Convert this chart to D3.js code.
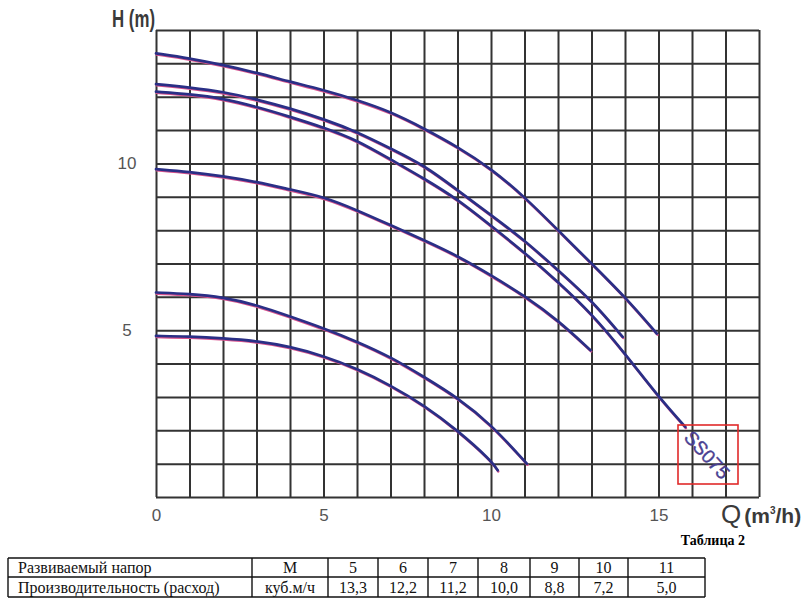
<!DOCTYPE html>
<html><head><meta charset="utf-8">
<script src="https://cdn.jsdelivr.net/npm/d3@7"></script>
<style>body{margin:0;background:#fff} svg{display:block}</style>
</head><body>
<svg id="chart" width="806" height="608"></svg>
<script>
// ---- data ----
const flowA = [0,1,2,3,4,5,6,7,8,9,10,10.2];
const headA = [4.83,4.81,4.76,4.68,4.51,4.23,3.85,3.35,2.75,2.0,1.1,0.8];
const flowB = [0,1,2,3,4,5,6,7,8,9,10,11.07];
const headB = [6.13,6.09,5.99,5.76,5.41,5.06,4.66,4.2,3.6,2.98,2.18,1.0];
const flowC = [0,1,2,3,4,5,6,7,8,9,10,11,12,12.97];
const headC = [9.83,9.75,9.62,9.45,9.22,9.0,8.6,8.15,7.7,7.23,6.65,6.03,5.3,4.4];
const flowD1 = [0,1,2,3,4,5,6,7,8,9,10,11,12,13,14,15,15.8];
const headD1 = [12.15,12.08,11.95,11.7,11.4,11.08,10.7,10.12,9.55,8.93,8.13,7.33,6.45,5.5,4.3,3.0,2.1];
const flowD2 = [0,1,2,3,4,5,6,7,8,9,10,11,12,13,13.93];
const headD2 = [12.38,12.28,12.15,11.92,11.65,11.33,10.95,10.45,9.95,9.2,8.45,7.7,6.8,5.9,4.8];
const flowE = [0,1,2,3,4,5,6,7,8,9,10,11,12,13,14,14.95];
const headE = [13.3,13.15,12.95,12.72,12.45,12.2,11.9,11.55,11.05,10.5,9.85,9.0,8.0,7.0,6.0,4.9];
const xTickLabels = [0,5,10,15];
const yTickLabels = [5,10];
const modelLabel = "SS075";
const tableRowTitles = ["Развиваемый напор","Производительность (расход)"];
const tableUnits = ["М","куб.м/ч"];
const tableHeads = ["5","6","7","8","9","10","11"];
const tableFlows = ["13,3","12,2","11,2","10,0","8,8","7,2","5,0"];
const tableCaption = "Таблица 2";

const series = [[flowA,headA],[flowB,headB],[flowC,headC],[flowD1,headD1],[flowD2,headD2],[flowE,headE]]
  .map(([q,h]) => q.map((v,i) => ({q:v, h:h[i]})));

// ---- layout ----
const svg = d3.select("#chart");
const x = d3.scaleLinear().domain([0,18]).range([156,759]);
const y = d3.scaleLinear().domain([0,14]).range([497,30]);
const gridColor = "#333";

// grid
const gx = svg.append("g").attr("transform",`translate(0,${y(0)})`)
  .call(d3.axisBottom(x).tickValues(d3.range(0,19)).tickSize(-(y(0)-y(14))).tickFormat(""));
gx.select(".domain").remove();
gx.selectAll("line").attr("stroke",gridColor).attr("stroke-width",2);
const gy = svg.append("g").attr("transform",`translate(${x(0)},0)`)
  .call(d3.axisLeft(y).tickValues(d3.range(0,15)).tickSize(-(x(18)-x(0))).tickFormat(""));
gy.select(".domain").remove();
gy.selectAll("line").attr("stroke",gridColor).attr("stroke-width",2);

// tick labels
const lx = svg.append("g").attr("transform",`translate(0,${y(0)})`)
  .call(d3.axisBottom(x).tickValues(xTickLabels).tickSize(0).tickPadding(12).tickFormat(d3.format("d")));
lx.select(".domain").remove();
lx.selectAll("text").attr("font-family","Liberation Sans, Arial, sans-serif").attr("font-size",17).attr("fill","#555");
const ly = svg.append("g").attr("transform",`translate(${x(0)},0)`)
  .call(d3.axisLeft(y).tickValues(yTickLabels).tickSize(0).tickPadding(29).tickFormat(d3.format("d")));
ly.select(".domain").remove();
ly.selectAll("text").attr("text-anchor","middle").attr("font-family","Liberation Sans, Arial, sans-serif").attr("font-size",17).attr("fill","#555");

// curves
const line = d3.line().x(d=>x(d.q)).y(d=>y(d.h)).curve(d3.curveBasis);
svg.append("g").attr("transform","translate(0.6,1.2)").selectAll("path").data(series).join("path")
  .attr("d",line).attr("fill","none").attr("stroke","#d9548e").attr("stroke-width",2.4).attr("stroke-linecap","round");
svg.append("g").selectAll("path").data(series).join("path")
  .attr("d",line).attr("fill","none").attr("stroke","#2a2f86").attr("stroke-width",2.7).attr("stroke-linecap","round");

// axis titles
svg.append("text").attr("x",112).attr("y",27).attr("font-family","Liberation Sans Narrow, Arial Narrow, sans-serif")
  .attr("font-size",23).attr("font-weight","bold").attr("fill","#3a3a3a").attr("textLength",43).attr("lengthAdjust","spacingAndGlyphs").text("H (m)");
const qt = svg.append("text").attr("x",721).attr("y",523).attr("fill","#3a3a3a").attr("font-family","Liberation Sans, Arial, sans-serif");
qt.append("tspan").attr("font-size",26).text("Q");
qt.append("tspan").attr("font-size",21).attr("font-family","Liberation Sans Narrow, sans-serif").attr("font-weight","bold").attr("dx",3).text("(m");
qt.append("tspan").attr("font-size",10).attr("dy",-9).attr("font-weight","bold").text("3");
qt.append("tspan").attr("font-size",21).attr("font-family","Liberation Sans Narrow, sans-serif").attr("font-weight","bold").attr("dy",9).text("/h)");

// model box + label
svg.append("rect").attr("x",678).attr("y",425).attr("width",60).attr("height",59)
  .attr("fill","none").attr("stroke","#e02a2a").attr("stroke-width",1.6);
svg.append("text").attr("transform","translate(707,455) rotate(48)").attr("text-anchor","middle").attr("dominant-baseline","central")
  .attr("font-family","Liberation Sans, Arial, sans-serif").attr("font-size",19).attr("fill","#4a3f92")
  .attr("stroke","#4a3f92").attr("stroke-width",0.4).text(modelLabel);

// table
svg.append("text").attr("x",745).attr("y",545).attr("text-anchor","end").attr("font-family","Liberation Serif, Times New Roman, serif")
  .attr("font-size",14).attr("font-weight","bold").attr("fill","#000").text(tableCaption);
const colEdges = [8,252,328,378,428,478,530,579,628,705];
const rowEdges = [558,577,597];
const rows = [[tableRowTitles[0],tableUnits[0],...tableHeads],[tableRowTitles[1],tableUnits[1],...tableFlows]];
const tg = svg.append("g");
rows.forEach((r,ri)=>{
  r.forEach((t,ci)=>{
    const x0 = colEdges[ci], x1 = colEdges[ci+1];
    tg.append("text").attr("x", ci===0 ? x0+10 : (x0+x1)/2).attr("y", (rowEdges[ri]+rowEdges[ri+1])/2+5.5)
      .attr("text-anchor", ci===0 ? "start" : "middle")
      .attr("font-family","Liberation Serif, Times New Roman, serif").attr("font-size",16).attr("fill","#111").text(t);
  });
});
tg.selectAll("line.v").data(colEdges).join("line").attr("x1",d=>d).attr("x2",d=>d).attr("y1",rowEdges[0]).attr("y2",rowEdges[2])
  .attr("stroke","#111").attr("stroke-width",1.4);
tg.selectAll("line.h").data(rowEdges).join("line").attr("class","h").attr("x1",colEdges[0]).attr("x2",colEdges[colEdges.length-1]).attr("y1",d=>d).attr("y2",d=>d)
  .attr("stroke","#111").attr("stroke-width",1.4);
</script>
</body></html>
